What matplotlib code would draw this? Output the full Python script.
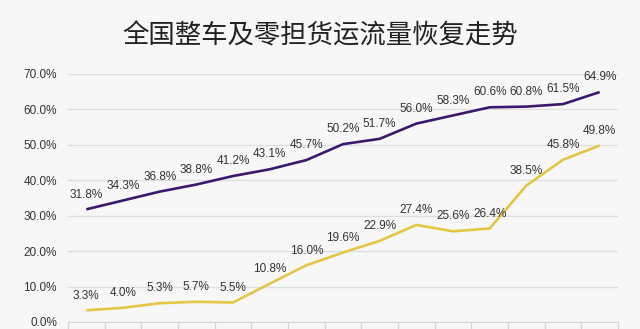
import numpy as np
import matplotlib.pyplot as plt
from matplotlib.ticker import FixedLocator

plt.rcParams['font.family'] = ['Noto Sans CJK SC', 'DejaVu Sans']

# valores (15 periodos)
zhengche = [31.8, 34.3, 36.8, 38.8, 41.2, 43.1, 45.7, 50.2, 51.7, 56.0, 58.3, 60.6, 60.8, 61.5, 64.9]
lingdan = [3.3, 4.0, 5.3, 5.7, 5.5, 10.8, 16.0, 19.6, 22.9, 27.4, 25.6, 26.4, 38.5, 45.8, 49.8]
yticks = [0, 10, 20, 30, 40, 50, 60, 70]
titulo = '全国整车及零担货运流量恢复走势'

bg = '#f7f7f7'
txt = '#333333'
fig = plt.figure(figsize=(6.4, 3.29), dpi=100, facecolor=bg)
ax = fig.add_axes([68/640, 7/329, 550/640, 248/329], facecolor=bg)

x = np.arange(len(zhengche))
ax.plot(x, zhengche, color='#3b1a6e', lw=1.9, solid_capstyle='butt')
ax.plot(x, lingdan, color='#e4c645', lw=1.9, solid_capstyle='butt')

# etiquetas de cada punto
for serie in [zhengche, lingdan]:
    for xi, v in zip(x, serie):
        ax.annotate(f'{v:.1f}%', (xi, v), xytext=(0, 8.5), textcoords='offset points',
                    ha='center', va='baseline', fontsize=8.5, color=txt,
                    family='Liberation Sans')

ax.set_xlim(-0.5, len(x) - 0.5)
ax.set_ylim(0, 70)
ax.set_yticks(yticks)
ax.set_yticklabels([f'{t:.1f}%' for t in yticks], fontsize=8.5, color=txt, family='Liberation Sans')
ax.tick_params(axis='y', length=0, pad=8)
ax.grid(axis='y', color='#dedede', lw=0.9)
ax.set_axisbelow(True)

ax.xaxis.set_major_locator(FixedLocator(np.arange(-0.5, len(x), 1)))
ax.set_xticklabels([])
ax.tick_params(axis='x', length=5, color='#d4d4d4', width=0.9)

for s in ['top', 'right', 'left']:
    ax.spines[s].set_visible(False)
ax.spines['bottom'].set_color('#d4d4d4')

fig.text(0.5, 1 - 36/329, titulo, ha='center', va='center', fontsize=19, color='#222222')

fig.savefig('out.png', dpi=100, facecolor=bg)
